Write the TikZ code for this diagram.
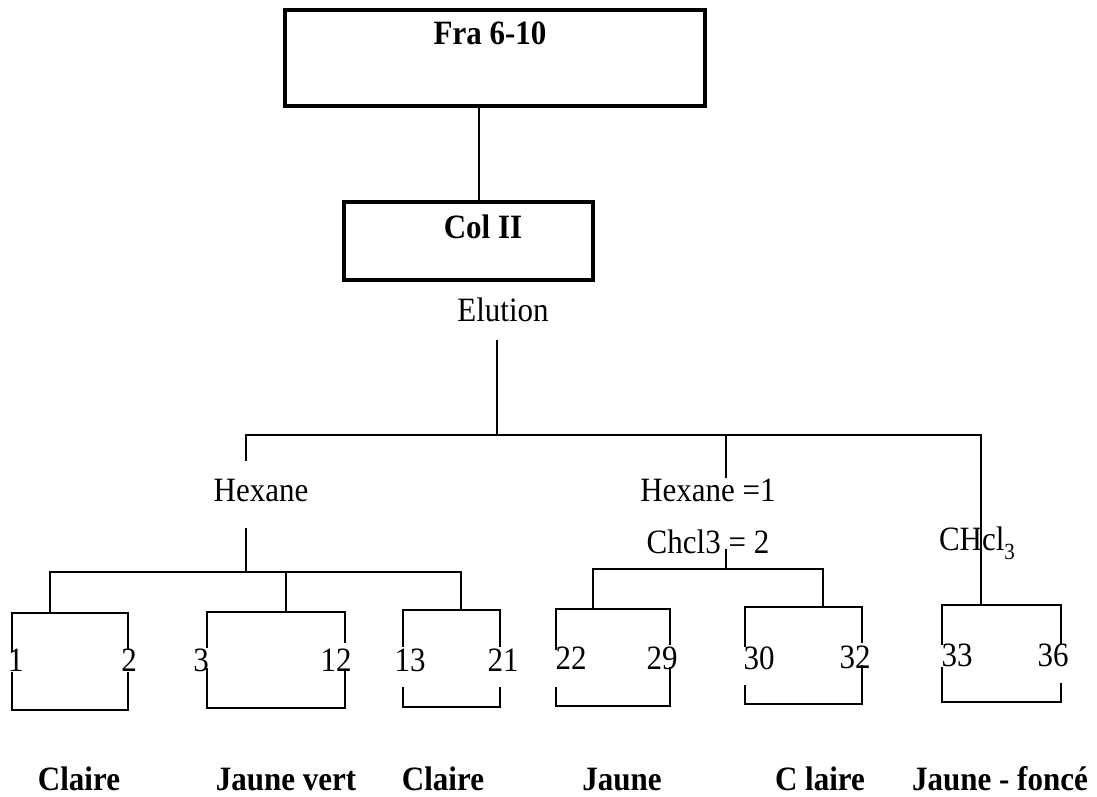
\documentclass[tikz,border=0pt]{standalone}
\usepackage{fontspec}
\setmainfont{Liberation Serif}
\usetikzlibrary{calc}
\newcommand{\tall}[1]{\scalebox{1}[1.1]{#1}}
\tikzset{
  txt/.style={inner sep=0pt, anchor=base, font=\fontsize{31}{31}\selectfont},
  btxt/.style={inner sep=0pt, anchor=base, font=\fontsize{31}{31}\selectfont\bfseries},
  bigbox/.style={draw, line width=3.8pt, inner sep=0pt},
  conn/.style={line width=1.7pt},
  brk/.style={line width=2.3pt},
}
% args: L R T B lgapTop lgapBot rgapTop rgapBot
\newcommand{\brkbox}[8]{%
  \draw[brk] (#1,#5) -- (#1,#3) -- (#2,#3) -- (#2,#7);
  \draw[brk] (#1,#6) -- (#1,#4) -- (#2,#4) -- (#2,#8);}
\begin{document}
\begin{tikzpicture}[x=1pt,y=-1pt]
\useasboundingbox (0,0) rectangle (1097,796);
% top boxes
\node[bigbox, minimum width=420pt, minimum height=96pt] (fra) at (495,58) {};
\node[btxt] (fratxt) at (490,44) {\tall{Fra 6-10}};
\node[bigbox, minimum width=249pt, minimum height=78pt] (col) at (468.5,241) {};
\node[btxt] (coltxt) at (483,238) {\tall{Col II}};
\coordinate (c1) at (479,0);
\draw[conn] (fra.south -| c1) -- (col.north -| c1);
\node[txt] (elution) at (503,321) {\tall{Elution}};
% main bus
\coordinate (etop) at (497,340);
\coordinate (bus) at (497,435);
\coordinate (busL) at (246,435);
\coordinate (busM) at (726,435);
\coordinate (busR) at (981,435);
\draw[conn] (etop) -- (bus);
\draw[conn] (busL |- 0,461) -- (busL) -- (busR) -- (981,605);
\draw[conn] (busM) -- (726,478);
% labels
\node[txt] (hex) at (261,501) {\tall{Hexane}};
\node[txt] (hex1) at (708,501) {\tall{Hexane =1}};
\node[txt] (chcl2) at (708,553) {\tall{Chcl3 = 2}};
\node[txt] (chcl3) at (977,550) {\tall{CHcl\raisebox{-0.28em}{\fontsize{21}{21}\selectfont 3}}};
% left group
\coordinate (gL) at (246,572);
\draw[conn] (246,528) -- (gL);
\draw[conn] (50,613) -- (50,572) -- (461,572) -- (461,610);
\draw[conn] (286,572) -- (286,612);
% middle group
\draw[conn] (726,549) -- (726,569);
\draw[conn] (593,609) -- (593,569) -- (823,569) -- (823,607);
% bracket boxes
\brkbox{12}{128}{613}{710}{652}{672}{650}{672}
\node[txt] (n1) at (16,671) {\tall{1}};
\node[txt] (n2) at (129,671) {\tall{2}};
\brkbox{207}{345}{612}{708}{648}{668}{643}{670}
\node[txt] (n3) at (201,671) {\tall{3}};
\node[txt] (n12) at (336,671) {\tall{12}};
\brkbox{403}{500}{610}{707}{647}{687}{647}{687}
\node[txt] (n13) at (410,671) {\tall{13}};
\node[txt] (n21) at (503,671) {\tall{21}};
\brkbox{556}{670}{609}{706}{650}{687}{645}{667}
\node[txt] (n22) at (571,669) {\tall{22}};
\node[txt] (n29) at (662,669) {\tall{29}};
\brkbox{745}{862}{607}{704}{647}{685}{643}{665}
\node[txt] (n30) at (759,669) {\tall{30}};
\node[txt] (n32) at (855,668) {\tall{32}};
\brkbox{942}{1061}{605}{702}{645}{667}{645}{683}
\node[txt] (n33) at (957,666) {\tall{33}};
\node[txt] (n36) at (1053,666) {\tall{36}};
% bottom labels
\node[btxt] (l1) at (79,790) {\tall{Claire}};
\node[btxt] (l2) at (286,790) {\tall{Jaune vert}};
\node[btxt] (l3) at (443,790) {\tall{Claire}};
\node[btxt] (l4) at (622,790) {\tall{Jaune}};
\node[btxt] (l5) at (820,790) {\tall{C laire}};
\node[btxt] (l6) at (1000,790) {\tall{Jaune - foncé}};
\end{tikzpicture}
\end{document}
